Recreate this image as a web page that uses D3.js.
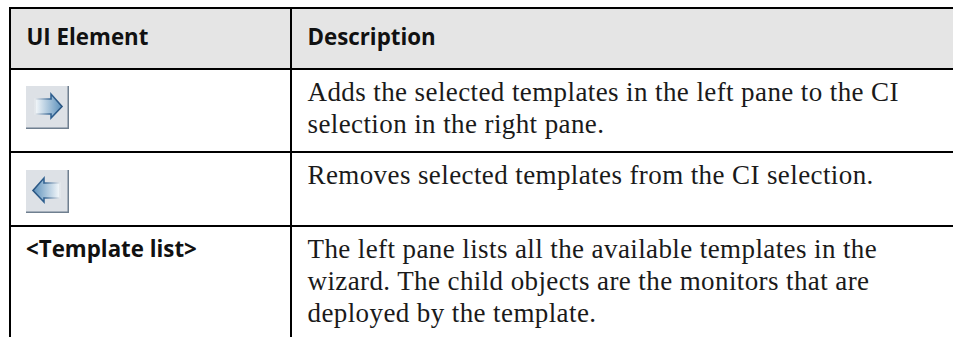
<!DOCTYPE html>
<html>
<head>
<meta charset="utf-8">
<script src="https://cdn.jsdelivr.net/npm/d3@7"></script>
<style>
  body { margin: 0; background: #fff; }
  .head, .label { font-family: "Open Sans", sans-serif; font-weight: 700; fill: #111; font-size: 22.3px; }
  .desc { font-family: "Liberation Serif", serif; font-size: 27px; letter-spacing: 0.4px; fill: #1a1a1a; }
</style>
</head>
<body>
<svg id="table" width="953" height="337"></svg>
<script>
const columns = ['UI Element', 'Description'];
const rowKeys = ['header', 'add', 'remove', 'list'];
const rowLabels = ['', '', '<Template list>'];
const rowIcons = ['right', 'left', null];
const rowText = [
  ['Adds the selected templates in the left pane to the CI', 'selection in the right pane.'],
  ['Removes selected templates from the CI selection.'],
  ['The left pane lists all the available templates in the', 'wizard. The child objects are the monitors that are', 'deployed by the template.']
];

const width = 953, height = 337;
const svg = d3.select('#table');

// table grid
const x = d3.scaleOrdinal(columns, [10, 291]);
const y = d3.scaleOrdinal(rowKeys, [8, 69, 152, 226]);

// arrow gradients
const defs = svg.append('defs');
const grad = defs.append('linearGradient').attr('id', 'arrowFill');
grad.append('stop').attr('offset', '0').attr('stop-color', '#f6f9fb');
grad.append('stop').attr('offset', '1').attr('stop-color', '#5b90bb');
const edge = defs.append('linearGradient').attr('id', 'arrowEdge');
edge.append('stop').attr('offset', '0').attr('stop-color', '#e4e8ec');
edge.append('stop').attr('offset', '0.6').attr('stop-color', '#2f6090');
edge.append('stop').attr('offset', '1').attr('stop-color', '#2a5580');

// header band
svg.append('rect')
  .attr('x', x(columns[0])).attr('y', y('header'))
  .attr('width', width - x(columns[0])).attr('height', y('add') - y('header'))
  .attr('fill', '#e5e5e5');

svg.selectAll('.head')
  .data(columns)
  .enter()
  .append('text')
  .attr('class', 'head')
  .attr('x', d => x(d) + 16.5)
  .attr('y', 45)
  .text(d => d);

// rows
const rows = svg.selectAll('.row')
  .data(rowKeys.slice(1))
  .enter()
  .append('g')
  .attr('class', 'row')
  .attr('transform', d => `translate(0,${y(d)})`);

rows.append('text')
  .attr('class', 'label')
  .attr('x', x(columns[0]) + 16)
  .attr('y', 31)
  .text((d, i) => rowLabels[i]);

rows.selectAll('.desc')
  .data((d, i) => rowText[i])
  .enter()
  .append('text')
  .attr('class', 'desc')
  .attr('x', x(columns[1]) + 16.5)
  .attr('y', (d, i) => 32 + i * 32)
  .text(d => d);

// toolbar buttons
const icons = rows.filter((d, i) => rowIcons[i])
  .append('g')
  .attr('transform', (d, i) => `translate(26,${i === 0 ? 17 : 18})`);

icons.append('rect').attr('width', 43).attr('height', 43).attr('fill', '#dde1e6');
icons.append('path').attr('d', 'M0,43H43V0H41.5V41.5H0Z').attr('fill', '#6f7f8f');
icons.append('path')
  .attr('d', 'M9,13H25V8L36,20.5L25,32V28H9Z')
  .attr('fill', 'url(#arrowFill)')
  .attr('stroke', 'url(#arrowEdge)')
  .attr('stroke-width', 1.6)
  .attr('transform', function() {
    return rowIcons[rowKeys.indexOf(d3.select(this.parentNode).datum()) - 1] === 'left' ? 'translate(43,0) scale(-1,1)' : null;
  });

// grid lines
const lineColor = '#000';
svg.selectAll('.hline')
  .data(rowKeys)
  .enter()
  .append('line')
  .attr('x1', x(columns[0]) - 1).attr('x2', width)
  .attr('y1', d => y(d)).attr('y2', d => y(d))
  .attr('stroke', lineColor).attr('stroke-width', 2);

svg.selectAll('.vline')
  .data(columns)
  .enter()
  .append('line')
  .attr('x1', d => x(d)).attr('x2', d => x(d))
  .attr('y1', y('header')).attr('y2', height)
  .attr('stroke', lineColor).attr('stroke-width', 2);
</script>
</body>
</html>
